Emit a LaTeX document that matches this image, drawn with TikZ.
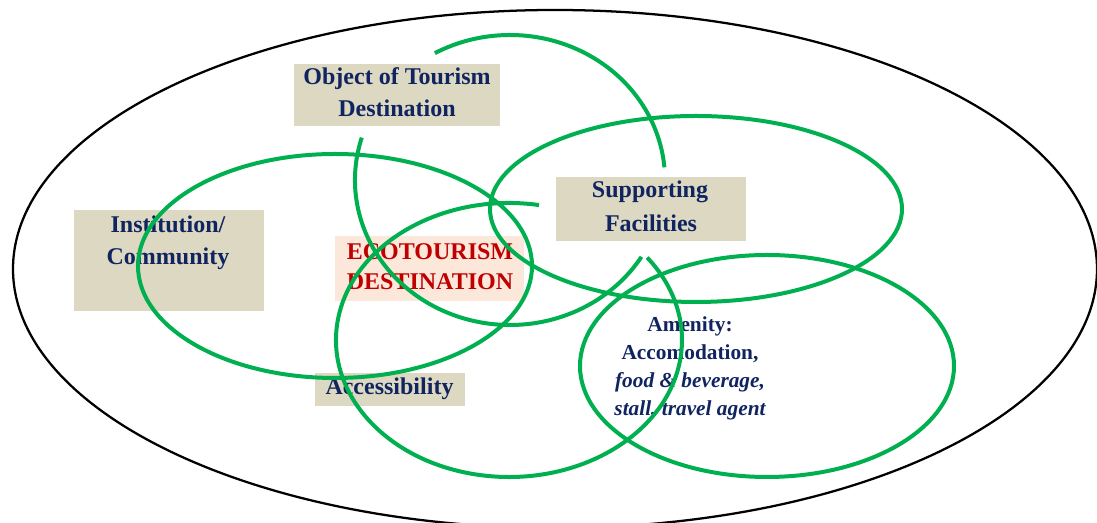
\documentclass[tikz,border=0pt]{standalone}
\usepackage{fontspec}
\setmainfont{Liberation Serif}
\definecolor{navy}{RGB}{16,36,96}
\definecolor{dred}{RGB}{192,0,0}
\definecolor{beige}{RGB}{221,216,194}
\definecolor{peach}{RGB}{252,232,218}
\definecolor{vgreen}{RGB}{0,176,80}
\begin{document}
\begin{tikzpicture}[x=0.75pt,y=0.75pt,
  lbl/.style={font=\fontsize{18}{24}\selectfont\bfseries, text=navy, inner sep=0pt, anchor=base},
  redlbl/.style={lbl, text=dred},
  amen/.style={font=\fontsize{16}{21}\selectfont\bfseries, text=navy, inner sep=0pt, anchor=base},
  amenit/.style={amen, font=\fontsize{16}{21}\selectfont\bfseries\itshape},
  boxb/.style={fill=beige, draw=none, inner sep=0pt},
  boxp/.style={fill=peach, draw=none, inner sep=0pt},
  gc/.style={draw=vgreen, line width=3pt},
  outer/.style={draw=black, line width=1.7pt}
]
\useasboundingbox (0,0) rectangle (1097,523);
\clip (0,0) rectangle (1097,523);
\fill[white] (0,0) rectangle (1097,523);
% outer ellipse
\draw[outer] (555,254) ellipse [x radius=542, y radius=259];
% boxes
\node[boxb, minimum width=154.5pt, minimum height=46.5pt] (objbox) at (397,428) {};
\node[boxb, minimum width=142.5pt, minimum height=48pt] (supbox) at (651,314) {};
\node[boxb, minimum width=142.5pt, minimum height=75.75pt] (insbox) at (169,262.5) {};
\node[boxp, minimum width=141.75pt, minimum height=48.75pt] (ecobox) at (429.5,254.5) {};
\node[boxb, minimum width=112.5pt, minimum height=24.75pt] (accbox) at (390,133.5) {};
% texts
\node[lbl] (obj1) at (397,438) {Object of Tourism};
\node[lbl] (obj2) at (397,406) {Destination};
\node[lbl] (sup1) at (650,325) {Supporting};
\node[lbl] (sup2) at (651,291) {Facilities};
\node[lbl] (ins1) at (168,290) {Institution/};
\node[lbl] (ins2) at (168,258) {Community};
\node[redlbl] (eco1) at (430,263) {ECOTOURISM};
\node[redlbl] (eco2) at (430,233) {DESTINATION};
\node[lbl] (acc) at (389.5,128) {Accessibility};
\node[amen] (am1) at (690,191) {Amenity:};
\node[amen] (am2) at (690,163) {Accomodation,};
\node[amenit] (am3) at (690,135) {food \& beverage,};
\node[amenit] (am4) at (690,107) {stall, travel agent};
% green circles
\draw[gc] (335,257) ellipse [x radius=197, y radius=112];
\draw[gc] (696,314) ellipse [x radius=206, y radius=93];
\draw[gc] (767,157) ellipse [x radius=187, y radius=111];
\draw[gc] (509,183) ++(80:173 and 137) arc [start angle=80, end angle=397, x radius=173, y radius=137];
\draw[gc] (510,343) ++(5:155 and 145) arc [start angle=5, end angle=119, x radius=155, y radius=145];
\draw[gc] (510,343) ++(163:155 and 145) arc [start angle=163, end angle=328, x radius=155, y radius=145];
\end{tikzpicture}
\end{document}
